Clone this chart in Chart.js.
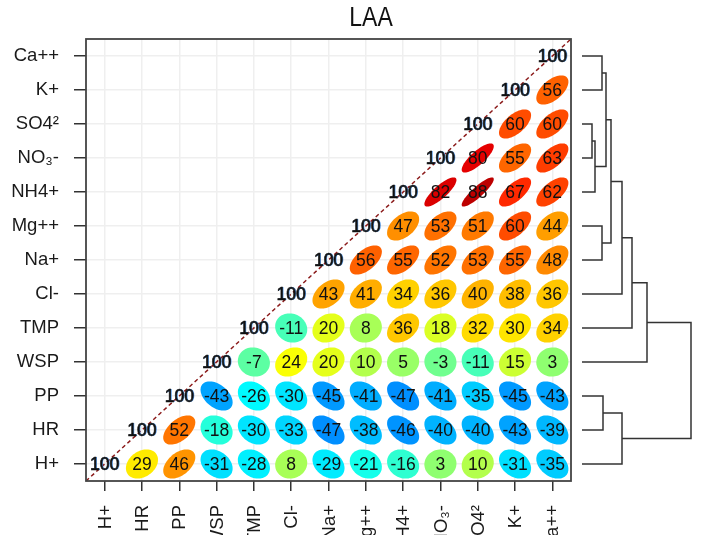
<!DOCTYPE html>
<html>
<head>
<meta charset="utf-8">
<script src="https://cdn.jsdelivr.net/npm/chart.js@4.4.0/dist/chart.umd.min.js"></script>
<style>
  html, body { margin: 0; padding: 0; background: #fff; overflow: hidden; }
</style>
</head>
<body>
<canvas id="corrChart" width="701" height="535"></canvas>
<script>
// variables, bottom row / left column first
const variables = ['H+', 'HR', 'PP', 'WSP', 'TMP', 'Cl-', 'Na+', 'Mg++', 'NH4+', 'NO₃-', 'SO4²', 'K+', 'Ca++'];

// correlations (x100); each row starts at its diagonal cell and runs right
const corrH   = [100, 29, 46, -31, -28, 8, -29, -21, -16, 3, 10, -31, -35];
const corrHR  = [100, 52, -18, -30, -33, -47, -38, -46, -40, -40, -43, -39];
const corrPP  = [100, -43, -26, -30, -45, -41, -47, -41, -35, -45, -43];
const corrWSP = [100, -7, 24, 20, 10, 5, -3, -11, 15, 3];
const corrTMP = [100, -11, 20, 8, 36, 18, 32, 30, 34];
const corrCl  = [100, 43, 41, 34, 36, 40, 38, 36];
const corrNa  = [100, 56, 55, 52, 53, 55, 48];
const corrMg  = [100, 47, 53, 51, 60, 44];
const corrNH4 = [100, 82, 88, 67, 62];
const corrNO3 = [100, 80, 55, 63];
const corrSO4 = [100, 60, 60];
const corrK   = [100, 56];
const corrCa  = [100];

// hierarchical clustering (hclust style: -n = leaf n-1, +n = merge n)
const mergeLeft   = [-11, -9, -12, -8, -3, 3, 6, 7, 5, 8, 10, 11];
const mergeRight  = [-10, 1, -13, -7, -2, 2, 4, -6, -1, -5, -4, 9];
const mergeHeight = [0.10, 0.13, 0.20, 0.20, 0.21, 0.24, 0.29, 0.40, 0.40, 0.50, 0.65, 1.09];

const rows = [corrH, corrHR, corrPP, corrWSP, corrTMP, corrCl, corrNa, corrMg, corrNH4, corrNO3, corrSO4, corrK, corrCa];
const cells = [];
rows.forEach((row, r) => {
    row.forEach((v, k) => cells.push({ x: r + k, y: r, v: v }));
});
const n = variables.length;
const diagLine = [{ x: -0.5, y: -0.5 }, { x: n - 0.5, y: n - 0.5 }];

const FONT = '"Liberation Sans", Arial, sans-serif';

// jet colour ramp over -100..100
function jet(v) {
    const t = (v / 100 + 1) / 2;
    const c = a => Math.round(255 * Math.max(0, Math.min(1, a)));
    const r = c(Math.min(4 * t - 1.5, -4 * t + 4.5));
    const g = c(Math.min(4 * t - 0.5, -4 * t + 3.5));
    const b = c(Math.min(4 * t + 0.5, -4 * t + 2.5));
    return `rgb(${r},${g},${b})`;
}

const corrDecor = {
    id: 'corrDecor',
    afterDatasetsDraw(chart) {
        const ctx = chart.ctx;
        const xs = chart.scales.x, ys = chart.scales.y;
        const area = chart.chartArea;
        const cw = xs.getPixelForValue(1) - xs.getPixelForValue(0);
        const ch = ys.getPixelForValue(0) - ys.getPixelForValue(1);
        const meta = chart.getDatasetMeta(1);
        const s = 0.86;

        ctx.save();
        // ellipses
        meta.data.forEach((pt, i) => {
            const v = cells[i].v;
            if (cells[i].x === cells[i].y) return;
            const d = Math.acos(v / 100);
            ctx.beginPath();
            for (let k = 0; k <= 72; k++) {
                const t = k / 72 * 2 * Math.PI;
                const ex = Math.cos(t + d / 2) / 2 * s * cw;
                const ey = Math.cos(t - d / 2) / 2 * s * ch;
                if (k === 0) ctx.moveTo(pt.x + ex, pt.y - ey);
                else ctx.lineTo(pt.x + ex, pt.y - ey);
            }
            ctx.closePath();
            ctx.fillStyle = jet(v);
            ctx.fill();
        });

        // numbers
        ctx.font = '17.5px ' + FONT;
        ctx.textAlign = 'center';
        ctx.textBaseline = 'middle';
        meta.data.forEach((pt, i) => {
            const c = cells[i];
            if (c.x === c.y) {
                ctx.fillStyle = '#5a9be6';
                ctx.fillText(String(c.v), pt.x + 1, pt.y + 1);
                ctx.fillStyle = '#111';
                ctx.strokeStyle = '#111';
                ctx.lineWidth = 0.6;
                ctx.fillText(String(c.v), pt.x, pt.y + 1);
                ctx.strokeText(String(c.v), pt.x, pt.y + 1);
            } else {
                ctx.fillStyle = '#111';
                ctx.fillText(String(c.v), pt.x, pt.y + 1);
            }
        });

        // frame
        ctx.strokeStyle = '#444';
        ctx.lineWidth = 1.8;
        ctx.strokeRect(area.left, area.top, area.right - area.left, area.bottom - area.top);

        // x labels, rotated
        ctx.fillStyle = '#1a1a1a';
        ctx.font = '18.5px ' + FONT;
        ctx.textAlign = 'right';
        ctx.textBaseline = 'middle';
        variables.forEach((lab, i) => {
            ctx.save();
            ctx.translate(xs.getPixelForValue(i) + 1, area.bottom + 24);
            ctx.rotate(-Math.PI / 2);
            ctx.fillText(lab, 0, 0);
            ctx.restore();
        });

        // dendrogram on the right
        const x0 = area.right + 11;
        const hx = h => x0 + h * 100;
        const nodeY = [], nodeH = [];
        const getY = id => id < 0 ? ys.getPixelForValue(-id - 1) : nodeY[id - 1];
        const getH = id => id < 0 ? 0 : nodeH[id - 1];
        ctx.strokeStyle = '#333';
        ctx.lineWidth = 1.5;
        ctx.beginPath();
        mergeHeight.forEach((h, m) => {
            const a = mergeLeft[m], b = mergeRight[m];
            const ya = getY(a), yb = getY(b);
            ctx.moveTo(hx(getH(a)), ya);
            ctx.lineTo(hx(h), ya);
            ctx.lineTo(hx(h), yb);
            ctx.lineTo(hx(getH(b)), yb);
            nodeY[m] = (ya + yb) / 2;
            nodeH[m] = h;
        });
        ctx.stroke();

        // title
        ctx.save();
        ctx.fillStyle = '#111';
        ctx.font = '28px ' + FONT;
        ctx.textAlign = 'center';
        ctx.textBaseline = 'middle';
        ctx.translate(371, 18);
        ctx.scale(0.82, 1);
        ctx.fillText('LAA', 0, 0);
        ctx.restore();

        ctx.restore();
    }
};

const axisBase = {
    type: 'linear',
    min: -0.5,
    max: n - 0.5,
    afterBuildTicks: s => { s.ticks = variables.map((_, i) => ({ value: i })); },
    border: { display: false },
    grid: { color: '#efefef', lineWidth: 1.5, tickColor: '#333', tickWidth: 1.5 }
};

new Chart(document.getElementById('corrChart'), {
    type: 'scatter',
    data: {
        datasets: [
            {
                type: 'line',
                data: diagLine,
                borderColor: '#8b1a1a',
                borderDash: [4, 3],
                borderWidth: 1.5,
                pointRadius: 0,
                fill: false
            },
            {
                data: cells,
                pointRadius: 0,
                pointHoverRadius: 0
            }
        ]
    },
    options: {
        responsive: false,
        animation: false,
        devicePixelRatio: 1,
        events: [],
        layout: { padding: { left: 12, right: 130, top: 39, bottom: 44 } },
        plugins: { legend: { display: false }, tooltip: { enabled: false } },
        scales: {
            x: Object.assign({}, axisBase, {
                grid: Object.assign({}, axisBase.grid, { tickLength: 10 }),
                ticks: { display: false },
                afterFit: s => { s.height = 10; }
            }),
            y: Object.assign({}, axisBase, {
                grid: Object.assign({}, axisBase.grid, { tickLength: 12 }),
                ticks: {
                    color: '#1a1a1a',
                    padding: 15,
                    font: { size: 18.5, family: FONT },
                    callback: v => variables[v]
                },
                afterFit: s => { s.width = 74; }
            })
        }
    },
    plugins: [corrDecor]
});
</script>
</body>
</html>
